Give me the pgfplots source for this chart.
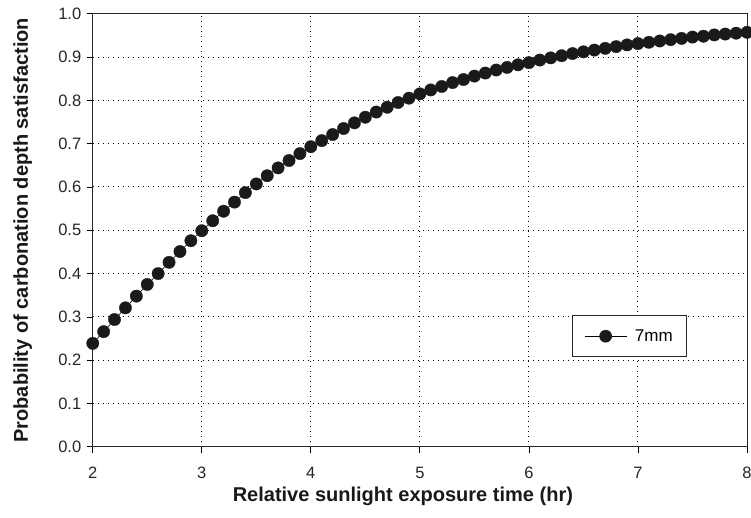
\documentclass[border=0pt]{standalone}
\usepackage{fontspec}
\setmainfont{Liberation Sans}
\usepackage{pgfplots}
\pgfplotsset{compat=1.18}
\definecolor{mk}{HTML}{1A1A1A}
\begin{document}
\begin{tikzpicture}
\begin{axis}[
  scale only axis,
  width=654pt, height=433pt,
  xmin=2, xmax=8, ymin=0, ymax=1,
  xtick={2,3,...,8},
  ytick={0,0.1,...,1.0},
  /pgf/number format/assume math mode=true,
  ticklabel style={font=\fontsize{16.5}{18}\selectfont, text=black!85},
  xticklabel style={yshift=-11pt},
  yticklabel style={xshift=-2pt, /pgf/number format/fixed, /pgf/number format/fixed zerofill, /pgf/number format/precision=1},
  tick align=outside,
  major tick length=6pt,
  xtick pos=bottom, ytick pos=left,
  tick style={black, line width=0.8pt},
  grid=major,
  major grid style={black, line width=1pt, dash pattern=on 1pt off 4pt},
  axis line style={line width=1pt, black!85},
  xlabel={\bfseries Relative sunlight exposure time (hr)},
  ylabel={\bfseries Probability of carbonation depth satisfaction},
  xlabel style={font=\fontsize{20}{22}\selectfont, text=black!90, at={([xshift=-17pt]axis description cs:0.5,0)}, anchor=center, yshift=-49pt},
  ylabel style={font=\fontsize{20}{22}\selectfont, text=black!90, at={([xshift=-70pt]axis description cs:0,0.5)}, anchor=center},
  legend style={at={(axis cs:6.394,0.304)}, anchor=north west, draw=black!85, line width=0.8pt,
    font=\fontsize{17}{19}\selectfont, inner xsep=12pt, inner ysep=12pt, fill=white},
  legend cell align=left,
  legend image code/.code={
    \draw[black, line width=0.7pt] (0pt,0pt) -- (42pt,0pt);
    \fill[mk] (21pt,0pt) circle (6pt);
    \path (48pt,0pt);
  },
]
\addplot[black, line width=0.6pt, mark=*, mark size=6.2pt, mark options={fill=mk, draw=mk, line width=0.3pt}]
coordinates {
(2.0,0.239)(2.1,0.266)(2.2,0.294)(2.3,0.321)(2.4,0.348)(2.5,0.375)(2.6,0.400)(2.7,0.426)(2.8,0.451)(2.9,0.476)
(3.0,0.499)(3.1,0.522)(3.2,0.544)(3.3,0.565)(3.4,0.587)(3.5,0.607)(3.6,0.626)(3.7,0.644)(3.8,0.661)(3.9,0.677)
(4.0,0.693)(4.1,0.707)(4.2,0.721)(4.3,0.735)(4.4,0.748)(4.5,0.761)(4.6,0.773)(4.7,0.784)(4.8,0.795)(4.9,0.805)
(5.0,0.815)(5.1,0.824)(5.2,0.832)(5.3,0.841)(5.4,0.848)(5.5,0.856)(5.6,0.863)(5.7,0.870)(5.8,0.876)(5.9,0.882)
(6.0,0.887)(6.1,0.893)(6.2,0.898)(6.3,0.903)(6.4,0.908)(6.5,0.912)(6.6,0.916)(6.7,0.920)(6.8,0.924)(6.9,0.928)
(7.0,0.931)(7.1,0.934)(7.2,0.937)(7.3,0.940)(7.4,0.943)(7.5,0.946)(7.6,0.948)(7.7,0.951)(7.8,0.953)(7.9,0.955)
(8.0,0.957)
};
\addlegendentry{7mm}
\end{axis}
\pgfresetboundingbox
\path[use as bounding box] ([shift={(-92.7pt,-70.3pt)}]current axis.south west) rectangle ([shift={(4pt,13.7pt)}]current axis.north east);
\end{tikzpicture}
\end{document}
